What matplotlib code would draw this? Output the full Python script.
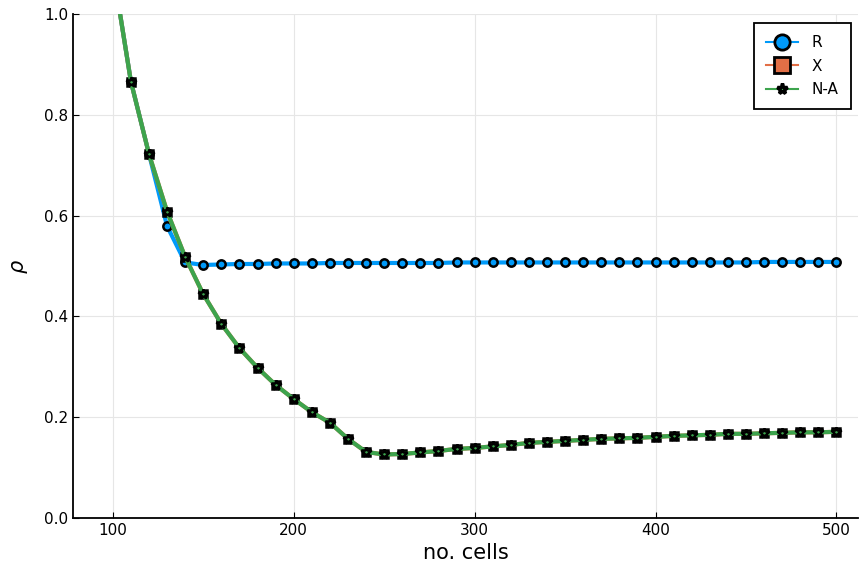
import matplotlib
matplotlib.use("Agg")
import matplotlib.pyplot as plt
from matplotlib.lines import Line2D

cells = list(range(100, 510, 10))

rho_R = [1.09, 0.866, 0.722, 0.579, 0.507, 0.502, 0.503, 0.504, 0.504, 0.505,
         0.505, 0.505, 0.506, 0.506, 0.506, 0.506, 0.506, 0.506, 0.506, 0.507,
         0.507, 0.507, 0.507, 0.507, 0.507, 0.507, 0.507, 0.507, 0.507, 0.507,
         0.507, 0.507, 0.507, 0.507, 0.507, 0.507, 0.508, 0.508, 0.508, 0.508,
         0.508]

rho_X = [1.09, 0.866, 0.722, 0.608, 0.518, 0.444, 0.385, 0.337, 0.298, 0.264,
         0.236, 0.210, 0.189, 0.157, 0.131, 0.126, 0.127, 0.130, 0.133, 0.137,
         0.139, 0.142, 0.145, 0.149, 0.151, 0.153, 0.155, 0.157, 0.158, 0.159,
         0.161, 0.163, 0.164, 0.165, 0.167, 0.167, 0.168, 0.169, 0.170, 0.170,
         0.171]

rho_NA = list(rho_X)

labels = ["R", "X", "N-A"]
colors = ["#009af9", "#e26f46", "#3da44d"]
markers = ["o", "s", "*"]

fig = plt.figure(figsize=(8.59, 5.73), dpi=100)
ax = fig.add_axes([0.085, 0.096, 0.914, 0.8796])

for y, lab, c, m in zip([rho_R, rho_X, rho_NA], labels, colors, markers):
    ms = 6.0 if m != "*" else 7.5
    ax.plot(cells, y, color=c, lw=3.0, marker=m, markersize=ms,
            markerfacecolor=c, markeredgecolor="black", markeredgewidth=1.8,
            label=lab)

ax.set_xlim(78, 512)
ax.set_ylim(0, 1)
ax.set_xticks([100, 200, 300, 400, 500])
ax.set_yticks([0.0, 0.2, 0.4, 0.6, 0.8, 1.0])
ax.set_yticklabels(["0.0", "0.2", "0.4", "0.6", "0.8", "1.0"])
ax.grid(True, color="#e6e6e6", lw=0.8)
ax.set_axisbelow(True)
for s in ["top", "right"]:
    ax.spines[s].set_visible(False)
for s in ["left", "bottom"]:
    ax.spines[s].set_linewidth(1.3)
ax.tick_params(direction="in", length=4, labelsize=11, width=0.8)
ax.set_xlabel("no. cells", fontsize=15, labelpad=4)
ax.set_ylabel(r"$\rho$", fontsize=15, labelpad=10)

handles = []
for lab, c, m in zip(labels, colors, markers):
    ms = 11 if m != "*" else 8
    handles.append(Line2D([0], [0], color=c, lw=1.5, marker=m, markersize=ms,
                          markerfacecolor=c if m != "*" else c,
                          markeredgecolor="black", markeredgewidth=2.0 if m != "*" else 2.5))

leg = ax.legend(handles, labels, loc="upper right", fontsize=11, frameon=True,
                fancybox=False, edgecolor="black", borderpad=0.8,
                labelspacing=0.55, handlelength=2.1, handletextpad=0.9,
                borderaxespad=0, framealpha=1,
                bbox_to_anchor=(851 / 859, 1 - 23 / 573),
                bbox_transform=fig.transFigure)
leg.get_frame().set_linewidth(1.3)

fig.savefig("out.png", dpi=100)
